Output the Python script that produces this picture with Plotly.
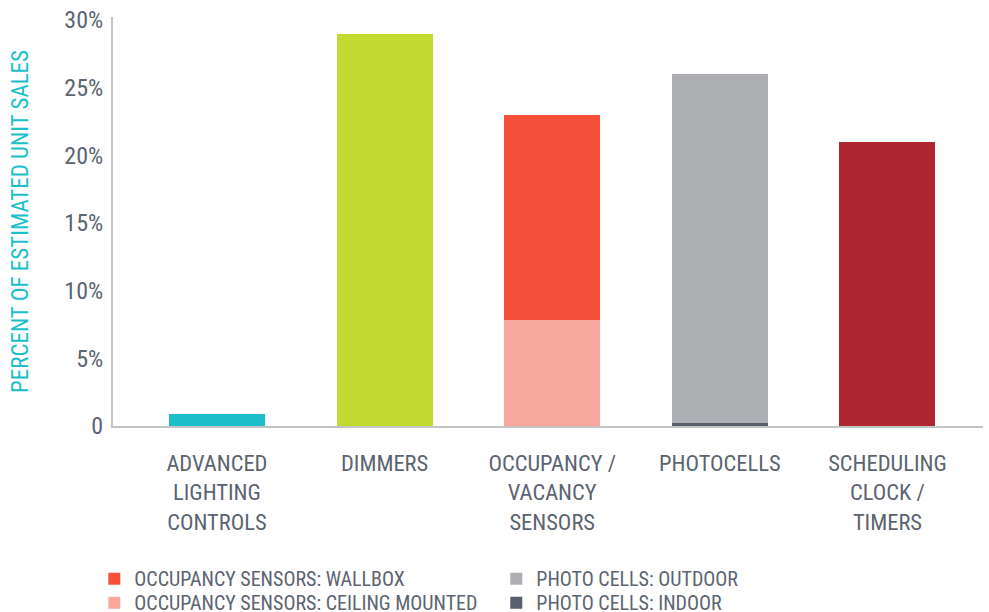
import plotly.graph_objects as go

categories = ["ADVANCED<br>LIGHTING<br>CONTROLS", "DIMMERS", "OCCUPANCY /<br>VACANCY<br>SENSORS",
              "PHOTOCELLS", "SCHEDULING<br>CLOCK /<br>TIMERS"]

single_cats = [categories[0], categories[1], categories[4]]
single_vals = [0.9, 29.0, 21.0]
single_colors = ["#1cbfc9", "#c2d92f", "#ae2630"]

occ_cat = [categories[2]]
occ_ceiling = [7.8]
occ_wallbox = [15.2]

photo_cat = [categories[3]]
photo_indoor = [0.25]
photo_outdoor = [25.75]

ytick_vals = [0, 5, 10, 15, 20, 25, 30]
ytick_text = ["0", "5%", "10%", "15%", "20%", "25%", "30%"]

FONT = "Liberation Sans Narrow, Roboto Condensed, Arial Narrow, sans-serif"
SLATE = "#5b6470"

fig = go.Figure()
fig.add_trace(go.Bar(x=single_cats, y=single_vals, marker=dict(color=single_colors, line_width=0),
                     showlegend=False, hoverinfo="y"))
fig.add_trace(go.Bar(x=occ_cat, y=occ_ceiling, name="OCCUPANCY SENSORS: CEILING MOUNTED",
                     marker=dict(color="#f8a89c", line_width=0), legend="legend2", legendrank=1))
fig.add_trace(go.Bar(x=occ_cat, y=occ_wallbox, name="OCCUPANCY SENSORS: WALLBOX",
                     marker=dict(color="#f5503a", line_width=0), legend="legend", legendrank=1))
fig.add_trace(go.Bar(x=photo_cat, y=photo_indoor, name="PHOTO CELLS: INDOOR",
                     marker=dict(color="#58606b", line_width=0), legend="legend2", legendrank=2))
fig.add_trace(go.Bar(x=photo_cat, y=photo_outdoor, name="PHOTO CELLS: OUTDOOR",
                     marker=dict(color="#aeafb2", line_width=0), legend="legend", legendrank=2))

legend_common = dict(orientation="h", x=-0.0215, xanchor="left", yanchor="top",
                     entrywidth=357, entrywidthmode="pixels", itemwidth=30,
                     font=dict(family=FONT, size=20, color=SLATE), tracegroupgap=0,
                     traceorder="normal", bgcolor="rgba(0,0,0,0)")

fig.update_layout(
    width=989, height=612,
    margin=dict(l=113, r=6, t=17, b=186, autoexpand=False),
    barmode="stack",
    bargap=0.427,
    plot_bgcolor="white", paper_bgcolor="white",
    font=dict(family=FONT, color=SLATE, size=22),
    showlegend=True,
    legend=dict(legend_common, y=-0.3256),
    legend2=dict(legend_common, y=-0.3843),
    xaxis=dict(categoryorder="array", categoryarray=categories, range=[-0.62, 4.57],
               showline=True, linecolor="#c4c4c4", linewidth=2, showgrid=False, zeroline=False,
               ticks="", ticklabelstandoff=16, tickfont=dict(size=22.5, color=SLATE), fixedrange=True),
    yaxis=dict(range=[0, 30.22], tickvals=ytick_vals, ticktext=ytick_text,
               showline=True, linecolor="#c4c4c4", linewidth=2, showgrid=False, zeroline=False,
               ticks="", ticklabelstandoff=3, tickfont=dict(size=24, color=SLATE),
               title=dict(text="PERCENT OF ESTIMATED UNIT SALES", standoff=29,
                          font=dict(size=23, color="#1cbfc9", family=FONT))),
)

fig.write_html("out.html")
